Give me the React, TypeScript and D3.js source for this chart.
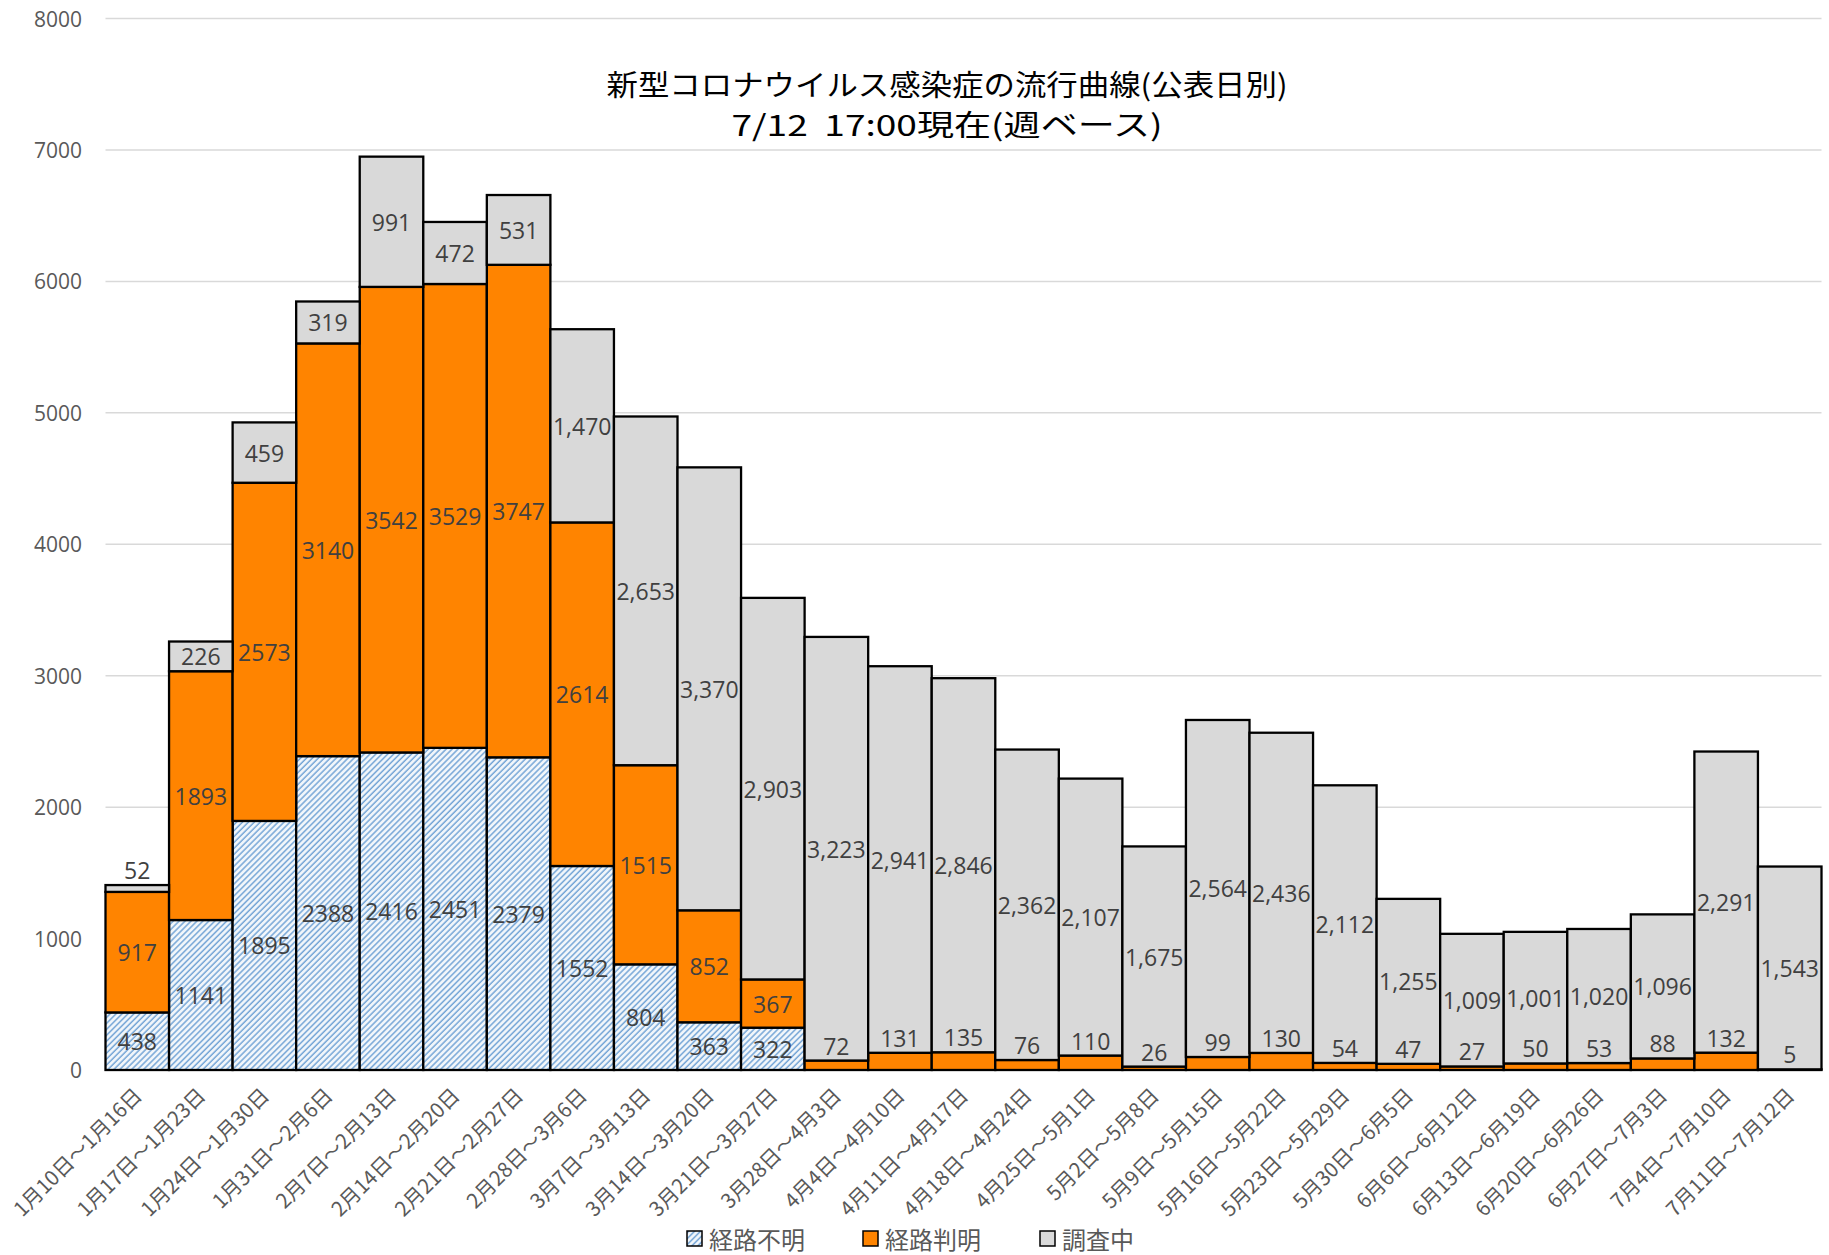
import React from "react";
import * as d3 from "d3";

// Weekly report periods
const weeks = [
  "1月10日～1月16日", "1月17日～1月23日", "1月24日～1月30日", "1月31日～2月6日",
  "2月7日～2月13日", "2月14日～2月20日", "2月21日～2月27日", "2月28日～3月6日",
  "3月7日～3月13日", "3月14日～3月20日", "3月21日～3月27日", "3月28日～4月3日",
  "4月4日～4月10日", "4月11日～4月17日", "4月18日～4月24日", "4月25日～5月1日",
  "5月2日～5月8日", "5月9日～5月15日", "5月16日～5月22日", "5月23日～5月29日",
  "5月30日～6月5日", "6月6日～6月12日", "6月13日～6月19日", "6月20日～6月26日",
  "6月27日～7月3日", "7月4日～7月10日", "7月11日～7月12日",
];

// 経路不明 (route unknown)
const unknownRoute = [
  438, 1141, 1895, 2388, 2416, 2451, 2379, 1552, 804, 363, 322, 0, 0, 0, 0, 0,
  0, 0, 0, 0, 0, 0, 0, 0, 0, 0, 0,
];
// 経路判明 (route known)
const knownRoute = [
  917, 1893, 2573, 3140, 3542, 3529, 3747, 2614, 1515, 852, 367, 72, 131, 135,
  76, 110, 26, 99, 130, 54, 47, 27, 50, 53, 88, 132, 5,
];
// 調査中 (under investigation)
const investigating = [
  52, 226, 459, 319, 991, 472, 531, 1470, 2653, 3370, 2903, 3223, 2941, 2846,
  2362, 2107, 1675, 2564, 2436, 2112, 1255, 1009, 1001, 1020, 1096, 2291, 1543,
];

const yTicks = [0, 1000, 2000, 3000, 4000, 5000, 6000, 7000, 8000];

const seriesKeys = ["unknown", "known", "investigating"];
const seriesNames = ["経路不明", "経路判明", "調査中"];

const W = 1829;
const H = 1255;
const left = 105.5;
const right = 1821.5;
const top = 18.5;
const bottom = 1070;

const FONT = "'Noto Sans CJK JP', 'Noto Sans', sans-serif";
const NUM_FONT = "'Open Sans', 'Noto Sans CJK JP', sans-serif";

export default function App() {
  const rows = weeks.map((w, i) => ({
    week: w,
    unknown: unknownRoute[i],
    known: knownRoute[i],
    investigating: investigating[i],
  }));

  const stacked = d3.stack<any>().keys(seriesKeys)(rows);

  const x = d3.scaleBand().domain(weeks).range([left, right]).padding(0);
  const y = d3.scaleLinear().domain([0, 8000]).range([bottom, top]);

  const fills = ["url(#hatch)", "#ff8400", "#d9d9d9"];
  const fmtPlain = d3.format("d");
  const fmtComma = d3.format(",");

  return (
    <svg
      width={W}
      height={H}
      style={{ position: "absolute", left: 0, top: 0, background: "#fff" }}
    >
      <defs>
        <pattern
          id="hatch"
          patternUnits="userSpaceOnUse"
          width={4.2}
          height={4.2}
          patternTransform="rotate(45)"
        >
          <rect width={4.2} height={4.2} fill="#f3f7fb" />
          <line x1={1} y1={0} x2={1} y2={4.2} stroke="#74a5d6" strokeWidth={1.5} />
        </pattern>
      </defs>

      {/* gridlines and y axis labels */}
      {yTicks.map((t) => (
        <g key={t}>
          <line
            x1={left}
            x2={right}
            y1={y(t)}
            y2={y(t)}
            stroke="#d9d9d9"
            strokeWidth={1.5}
          />
          <text
            x={82}
            y={y(t)}
            textAnchor="end"
            dominantBaseline="central"
            fontFamily={NUM_FONT}
            fontSize={21}
            fill="#595959"
          >
            {t}
          </text>
        </g>
      ))}

      {/* stacked bars */}
      {stacked.map((layer, si) => (
        <g key={layer.key}>
          {layer.map((d, i) => {
            const v = d[1] - d[0];
            if (v <= 0) return null;
            return (
              <rect
                key={i}
                x={x(weeks[i])!}
                width={x.bandwidth()}
                y={y(d[1])}
                height={y(d[0]) - y(d[1])}
                fill={fills[si]}
                stroke="#000"
                strokeWidth={2.3}
              />
            );
          })}
        </g>
      ))}

      {/* data labels: centred in each segment, lifted above very thin ones */}
      {stacked.map((layer, si) => (
        <g key={"lab" + layer.key}>
          {layer.map((d, i) => {
            const v = d[1] - d[0];
            if (v <= 0) return null;
            const y0 = y(d[0]);
            const y1 = y(d[1]);
            const h = y0 - y1;
            const cy = h < 25 ? y1 - 15 : (y0 + y1) / 2;
            const cx = x(weeks[i])! + x.bandwidth() / 2;
            const txt = si === 2 ? fmtComma(v) : fmtPlain(v);
            return (
              <text
                key={i}
                x={cx}
                y={cy}
                textAnchor="middle"
                dominantBaseline="central"
                fontFamily={NUM_FONT}
                fontSize={23}
                fill="#404040"
              >
                {txt}
              </text>
            );
          })}
        </g>
      ))}

      {/* x axis labels */}
      {weeks.map((w) => {
        const cx = x(w)! + x.bandwidth() / 2;
        return (
          <text
            key={w}
            transform={`translate(${cx + 6},${bottom + 27}) rotate(-45)`}
            textAnchor="end"
            fontFamily={FONT}
            fontSize={20.5}
            fill="#595959"
          >
            {w}
          </text>
        );
      })}

      {/* title */}
      <text
        x={947}
        y={96}
        textAnchor="middle"
        fontFamily={FONT}
        fontSize={29}
        fill="#000"
        textLength={681}
        lengthAdjust="spacingAndGlyphs"
      >
        新型コロナウイルス感染症の流行曲線(公表日別)
      </text>
      <text
        x={947}
        y={136}
        textAnchor="middle"
        fontFamily={FONT}
        fontSize={29}
        fill="#000"
        textLength={431}
        lengthAdjust="spacingAndGlyphs"
        style={{ whiteSpace: "pre" }}
      >
        {"7/12  17:00現在(週ベース)"}
      </text>

      {/* legend */}
      {seriesNames.map((name, i) => {
        const lx = [687, 863, 1040][i];
        return (
          <g key={name}>
            <rect
              x={lx}
              y={1231}
              width={15}
              height={15}
              fill={fills[i]}
              stroke="#000"
              strokeWidth={1.5}
            />
            <text
              x={lx + 22}
              y={1238}
              dominantBaseline="central"
              fontFamily={FONT}
              fontSize={24}
              fill="#595959"
            >
              {name}
            </text>
          </g>
        );
      })}
    </svg>
  );
}
